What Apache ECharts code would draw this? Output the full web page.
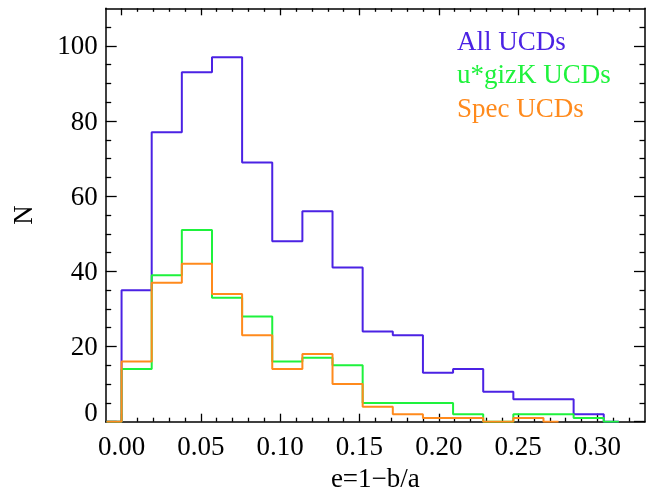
<!DOCTYPE html>
<html>
<head>
<meta charset="utf-8">
<script src="https://cdn.jsdelivr.net/npm/echarts@6/dist/echarts.min.js"></script>
<style>
html,body{margin:0;padding:0;background:#fff;}
#chart{width:655px;height:489px;}
</style>
</head>
<body>
<div id="chart"></div>
<script>
// Histogram bin centres (bin width 0.019)
const binCenters = [-0.0095, 0.0095, 0.0285, 0.0475, 0.0665, 0.0855, 0.1045, 0.1235, 0.1425,
                    0.1615, 0.1805, 0.1995, 0.2185, 0.2375, 0.2565, 0.2755, 0.2945, 0.3135];
const allUCDs   = [0, 35, 77, 93, 97, 69, 48, 56, 41, 24, 23, 13, 14, 8, 6, 6, 2, 0];
const ugizkUCDs = [0, 14, 39, 51, 33, 28, 16, 17, 15, 5, 5, 5, 2, 0, 2, 2, 1, 0];
const specUCDs  = [0, 16, 37, 42, 34, 23, 14, 18, 10, 4, 2, 1, 1, 0, 1, 0];

const seriesNames = ['All UCDs', 'u*gizK UCDs', 'Spec UCDs'];
const seriesColors = ['#4b22e4', '#1ef23c', '#ff8a1c'];

const xMajorTicks = [0, 0.05, 0.10, 0.15, 0.20, 0.25, 0.30];
const xMinorTicks = [0.01, 0.02, 0.03, 0.04, 0.06, 0.07, 0.08, 0.09, 0.11, 0.12, 0.13, 0.14,
                     0.16, 0.17, 0.18, 0.19, 0.21, 0.22, 0.23, 0.24, 0.26, 0.27, 0.28, 0.29,
                     0.31, 0.32];
const yMajorTicks = [0, 20, 40, 60, 80, 100];
const yMinorTicks = [5, 10, 15, 25, 30, 35, 45, 50, 55, 65, 70, 75, 85, 90, 95, 105];

const xTitle = 'e=1\u2212b/a';
const yTitle = 'N';

const X_MIN = -0.01, X_MAX = 0.33, Y_MIN = 0, Y_MAX = 110;
const FONT = '"Liberation Serif", "Times New Roman", serif';
const FS = 27;

function xAxisDef(pos, ticks, len, withLabels, withLine) {
  return {
    type: 'value', position: pos, min: X_MIN, max: X_MAX,
    splitLine: { show: false },
    axisLine: { show: withLine, onZero: false, lineStyle: { color: '#000', width: 1.5 } },
    axisTick: { show: true, inside: true, length: len, customValues: ticks,
                lineStyle: { color: '#000', width: 1.3 } },
    axisLabel: withLabels ? {
      show: true, customValues: ticks, margin: 13,
      fontFamily: FONT, fontSize: FS, color: '#000',
      formatter: v => v.toFixed(2)
    } : { show: false },
    name: withLabels ? xTitle : '',
    nameLocation: 'middle', nameGap: 43,
    nameTextStyle: { fontFamily: FONT, fontSize: FS, color: '#000' }
  };
}
function yAxisDef(pos, ticks, len, withLabels, withLine) {
  return {
    type: 'value', position: pos, min: Y_MIN, max: Y_MAX,
    splitLine: { show: false },
    axisLine: { show: withLine, onZero: false, lineStyle: { color: '#000', width: 1.5 } },
    axisTick: { show: true, inside: true, length: len, customValues: ticks,
                lineStyle: { color: '#000', width: 1.3 } },
    axisLabel: withLabels ? {
      show: true, customValues: ticks, margin: 8,
      fontFamily: FONT, fontSize: FS, color: '#000', padding: [3, 0, 0, 0],
      formatter: v => v === 0 ? '{z|0}' : String(v),
      rich: { z: { fontFamily: FONT, fontSize: FS, color: '#000', padding: [0, 0, 18, 0] } }
    } : { show: false },
    name: withLabels ? yTitle : '',
    nameLocation: 'middle', nameGap: 67,
    nameTextStyle: { fontFamily: FONT, fontSize: FS, color: '#000' }
  };
}

const chart = echarts.init(document.getElementById('chart'), null, { renderer: 'canvas' });

const dataSets = [allUCDs, ugizkUCDs, specUCDs];
const series = dataSets.map((vals, i) => ({
  name: seriesNames[i],
  type: 'line',
  step: 'middle',
  showSymbol: false,
  symbol: 'none',
  animation: false,
  xAxisIndex: 0, yAxisIndex: 0,
  lineStyle: { color: seriesColors[i], width: 2 },
  z: 2 + i,
  data: vals.map((v, k) => [binCenters[k], v])
}));

const legendY = [43.5, 76.8, 110.1];

chart.setOption({
  animation: false,
  backgroundColor: '#fff',
  grid: { left: 105.7, right: 10, top: 8.3, bottom: 67.3, outerBoundsMode: 'none', containLabel: false },
  xAxis: [
    xAxisDef('bottom', xMajorTicks, 8, true, true),
    xAxisDef('bottom', xMinorTicks, 4, false, false),
    xAxisDef('top', xMajorTicks, 7, false, true),
    xAxisDef('top', xMinorTicks, 3.5, false, false)
  ],
  yAxis: [
    yAxisDef('left', yMajorTicks, 11, true, true),
    yAxisDef('left', yMinorTicks, 5.5, false, false),
    yAxisDef('right', yMajorTicks, 11, false, true),
    yAxisDef('right', yMinorTicks, 5.5, false, false)
  ],
  series: series,
  graphic: seriesNames.map((n, i) => ({
    type: 'text', left: 457, top: legendY[i] - 14,
    style: { text: n, fill: seriesColors[i], font: FS + 'px ' + FONT }
  }))
});
</script>
</body>
</html>
